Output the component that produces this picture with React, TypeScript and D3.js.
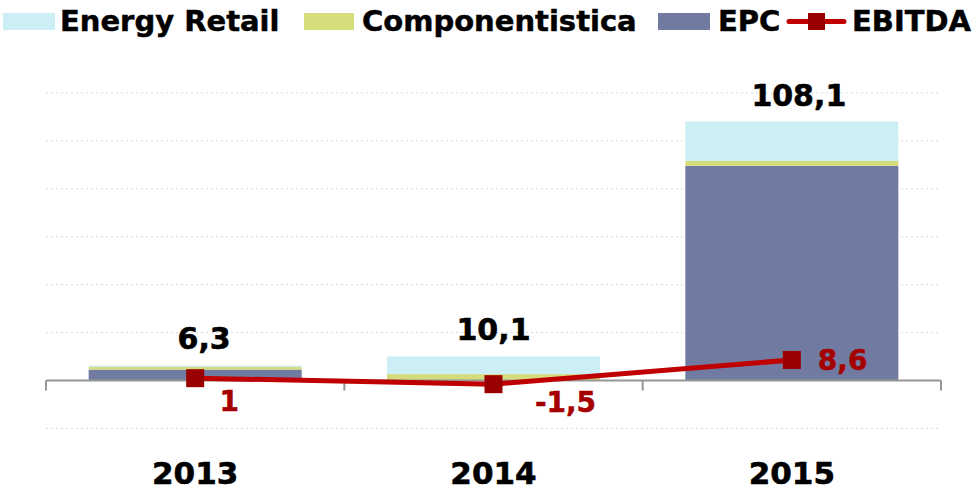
import React from "react";
import * as d3 from "d3";

const years = ["2013", "2014", "2015"];
const epc = [4.6, 0.2, 89.6];
const componentistica = [1.1, 2.5, 2.1];
const energyRetail = [0.6, 7.4, 16.4];
const totals = ["6,3", "10,1", "108,1"];
const ebitda = [1, -1.5, 8.6];
const ebitdaLabels = ["1", "-1,5", "8,6"];
const gridTicks = [-20, 20, 40, 60, 80, 100, 120];

const COLORS = {
  energyRetail: "#CCEEF5",
  componentistica: "#D4DC7C",
  epc: "#717AA0",
  line: "#C00000",
  marker: "#9A0000",
  label: "#A50000",
};

const FONT = "'DejaVu Sans', Verdana, sans-serif";

export default function App() {
  const W = 974;
  const H = 490;
  const x = d3.scaleBand<string>().domain(years).range([46, 941]).paddingInner(0.286).paddingOuter(0.143);
  const y = d3.scaleLinear().domain([-20, 120]).range([428.5, 93]);

  const seriesKeys = ["epc", "componentistica", "energyRetail"] as const;
  const rows = years.map((yr, i) => ({
    year: yr,
    epc: epc[i],
    componentistica: componentistica[i],
    energyRetail: energyRetail[i],
  }));
  const stacked = d3.stack<any>().keys(seriesKeys as any)(rows);

  const cx = (yr: string) => (x(yr) as number) + x.bandwidth() / 2;
  const line = d3
    .line<number>()
    .x((_, i) => cx(years[i]))
    .y((d) => y(d));

  const zero = y(0);
  const tickXs = [46, ...years.map((yr) => (x(yr) as number) + x.bandwidth() + (x.step() - x.bandwidth()) / 2)];
  const ebOffsets = [
    { dx: 34, dy: 33, anchor: "middle" },
    { dx: 72, dy: 28, anchor: "middle" },
    { dx: 26, dy: 10, anchor: "start" },
  ];

  return (
    <svg width={W} height={H} style={{ position: "absolute", left: 0, top: 0, background: "#fff" }} fontFamily={FONT}>
      {/* gridlines */}
      {gridTicks.map((t) => (
        <line key={t} x1={46} x2={941} y1={y(t)} y2={y(t)} stroke="#D9D9D9" strokeWidth={1} strokeDasharray="2,3" />
      ))}
      {/* bars */}
      {stacked.map((s) => (
        <g key={s.key} fill={(COLORS as any)[s.key]}>
          {s.map((d, i) => (
            <rect key={i} x={x(years[i])} width={x.bandwidth()} y={y(d[1])} height={Math.max(0, y(d[0]) - y(d[1]))} />
          ))}
        </g>
      ))}
      {/* axis */}
      <line x1={46} x2={941} y1={zero} y2={zero} stroke="#969696" strokeWidth={2} />
      {tickXs.map((tx, i) => (
        <line key={i} x1={tx} x2={tx} y1={zero} y2={zero + 10} stroke="#969696" strokeWidth={2} />
      ))}
      {/* category labels */}
      {years.map((yr) => (
        <text key={yr} x={cx(yr)} y={484} textAnchor="middle" fontSize={31} fontWeight="bold" fill="#000" stroke="#000" strokeWidth={0.6}>
          {yr}
        </text>
      ))}
      {/* totals */}
      {years.map((yr, i) => {
        const top = y(epc[i] + componentistica[i] + energyRetail[i]);
        return (
          <text key={yr} x={cx(yr) + (i === 0 ? 9 : i === 2 ? 7 : 0)} y={top - 16} textAnchor="middle" fontSize={30} fontWeight="bold" fill="#000" stroke="#000" strokeWidth={0.6}>
            {totals[i]}
          </text>
        );
      })}
      {/* EBITDA line */}
      <path d={line(ebitda) || ""} fill="none" stroke={COLORS.line} strokeWidth={5} />
      {ebitda.map((v, i) => (
        <rect key={i} x={cx(years[i]) - 9} y={y(v) - 9} width={18} height={18} fill={COLORS.marker} />
      ))}
      {ebitda.map((v, i) => (
        <text
          key={i}
          x={cx(years[i]) + ebOffsets[i].dx}
          y={y(v) + ebOffsets[i].dy}
          textAnchor={ebOffsets[i].anchor as any}
          fontSize={28}
          fontWeight="bold"
          fill={COLORS.label}
          stroke={COLORS.label}
          strokeWidth={0.5}
        >
          {ebitdaLabels[i]}
        </text>
      ))}
      {/* legend */}
      <g fontSize={29} fontWeight="bold" fill="#000" stroke="#000" strokeWidth={0.5}>
        <rect x={3} y={13} width={52} height={17} fill={COLORS.energyRetail} stroke="none" />
        <text x={60} y={31}>Energy Retail</text>
        <rect x={304} y={13} width={50} height={17} fill={COLORS.componentistica} stroke="none" />
        <text x={362} y={31}>Componentistica</text>
        <rect x={658} y={13} width={52} height={17} fill={COLORS.epc} stroke="none" />
        <text x={718} y={31}>EPC</text>
        <line x1={789} x2={844} y1={21.5} y2={21.5} stroke={COLORS.line} strokeWidth={5} strokeLinecap="round" />
        <rect x={808} y={13} width={17} height={17} fill={COLORS.marker} stroke="none" />
        <text x={852} y={31}>EBITDA</text>
      </g>
    </svg>
  );
}
